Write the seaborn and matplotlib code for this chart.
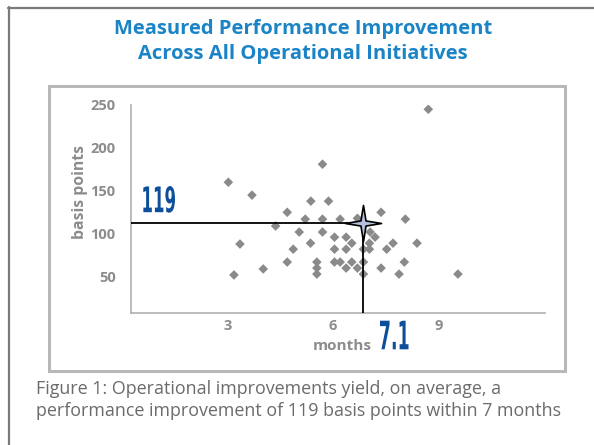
import numpy as np
import pandas as pd
import matplotlib
matplotlib.use("Agg")
import matplotlib.pyplot as plt
from matplotlib.path import Path
from matplotlib.lines import Line2D
from matplotlib.patches import Rectangle, PathPatch
from matplotlib.textpath import TextPath
from matplotlib.font_manager import FontProperties
from matplotlib.transforms import Affine2D
import seaborn as sns

# ---- data --------------------------------------------------------------
months = [3.03, 3.70, 3.36, 3.19, 4.02, 4.37, 4.70, 4.70, 4.87, 5.04,
          5.21, 5.37, 5.36, 5.54, 5.54, 5.54, 5.70, 5.87, 5.70, 5.70,
          6.04, 6.37, 6.04, 6.37, 6.04, 6.20, 6.53, 6.37, 6.69, 6.86,
          6.86, 6.20, 6.69, 6.53, 6.86, 7.03, 7.03, 7.05, 7.19, 7.36,
          8.05, 7.70, 8.38, 7.52, 8.02, 7.36, 7.87, 9.54, 8.70]
basis_points = [160, 145, 88, 52, 59, 109, 125, 67, 82, 102,
                117, 138, 89, 67, 60, 53, 181, 138, 117, 102,
                96, 96, 82, 82, 67, 67, 67, 60, 60, 53,
                67, 117, 118, 89, 82, 89, 82, 102, 96, 125,
                117, 89, 89, 82, 67, 60, 53, 53, 245]

mean_point = (6.86, 112.2)          # where the cross-hair is drawn
mean_labels = ("7.1", "119")         # printed values
x_ticks = [3, 6, 9, 12]
x_tick_labels = ["3", "6", "9", ""]
y_ticks = [50, 100, 150, 200, 250]

title = "Measured Performance Improvement\nAcross All Operational Initiatives"
caption = ("Figure 1: Operational improvements yield, on average, a\n"
           "performance improvement of 119 basis points within 7 months")

df = pd.DataFrame({"months": months, "basis_points": basis_points})

# ---- style ---------------------------------------------------------------
sns.set_style("white")
plt.rcParams["font.family"] = ["Open Sans", "DejaVu Sans"]

GREY_TXT = "#8c8c8c"
GREY_AX = "#b0b0b0"
BLUE_T = "#1b84c6"
BLUE_D = "#0d4f9a"

fig = plt.figure(figsize=(5.94, 4.45), dpi=100)
W, H = 594, 445

def fx(px):
    return px / W

def fy(py):
    return 1 - py / H

# outer frame (top + left) and inner plot box
fig.add_artist(Line2D([fx(8), 1], [fy(7.5), fy(7.5)], color="#7a7a7a", lw=1.6))
fig.add_artist(Line2D([fx(8.5), fx(8.5)], [fy(7), 0], color="#7a7a7a", lw=1.6))
fig.add_artist(Rectangle((fx(49), fy(371)), fx(565) - fx(49), fy(86) - fy(371),
                         transform=fig.transFigure, fill=False,
                         edgecolor="#b8b8b8", lw=2.2))

ax = fig.add_axes([fx(131), fy(313.3), fx(544.7) - fx(131), fy(105) - fy(313.3)])

sns.scatterplot(data=df, x="months", y="basis_points", marker="D", s=24,
                color="#8a8a8a", edgecolor="none", ax=ax, zorder=3)

ax.set_xlim(0.27, 12)
ax.set_ylim(7.3, 250)

# cross-hair at the average
mx, my = mean_point
ax.plot([0.27, mx], [my, my], color="black", lw=1.3, zorder=4)
ax.plot([mx, mx], [my, 7.3], color="black", lw=1.3, zorder=4)

r = 0.2
star_verts = []
for k in range(8):
    ang = np.pi / 2 + k * np.pi / 4
    rad = 1.0 if k % 2 == 0 else r
    star_verts.append((rad * np.cos(ang), rad * np.sin(ang)))
star_verts.append(star_verts[0])
star = Path(star_verts, [Path.MOVETO] + [Path.LINETO] * 7 + [Path.CLOSEPOLY])
ax.plot([mx], [my], marker=star, markersize=26, markerfacecolor="#b3bfdc",
        markeredgecolor="black", markeredgewidth=1.2, zorder=5, clip_on=False)

# axes look
for side in ["top", "right"]:
    ax.spines[side].set_visible(False)
for side in ["left", "bottom"]:
    ax.spines[side].set_color(GREY_AX)
    ax.spines[side].set_linewidth(1.2)

ax.set_xticks(x_ticks)
ax.set_xticklabels(x_tick_labels)
ax.set_yticks(y_ticks)
ax.tick_params(direction="in", length=5, width=1, color=GREY_AX,
               labelcolor=GREY_TXT, labelsize=10.5)
ax.tick_params(axis="y", pad=11)
ax.tick_params(axis="x", pad=4)
for lab in ax.get_xticklabels() + ax.get_yticklabels():
    lab.set_fontweight("bold")

ax.set_xlabel("")
ax.set_ylabel("")
fig.text(fx(342), fy(346.5), "months", ha="center", va="center",
         color=GREY_TXT, fontsize=11, fontweight="bold")
fig.text(fx(80.5), fy(192), "basis points", ha="center", va="center",
         rotation=90, color=GREY_TXT, fontsize=11.3, fontweight="bold")


# printed averages: a narrow, tall figure style, squeezed glyph outlines
def narrow_text(s, left_px, base_px, height_px, width_px):
    tp = TextPath((0, 0), s, size=1,
                  prop=FontProperties(family="DejaVu Sans", weight="semibold"))
    ext = tp.get_extents()
    sx = width_px / ext.width
    sy = height_px / ext.height
    tr = (Affine2D().translate(-ext.x0, -ext.y0).scale(sx, sy)
          .translate(left_px, H - base_px))
    fig.add_artist(PathPatch(tp, transform=tr, color=BLUE_D, lw=0))


narrow_text(mean_labels[0], 380, 349.3, 28.6, 28.5)
narrow_text(mean_labels[1], 143.3, 212.7, 26.7, 31.7)

fig.text(fx(303), fy(41.5), title, ha="center", va="center", color=BLUE_T,
         fontsize=14.5, fontweight="bold", linespacing=1.35)
fig.text(fx(36), fy(400), caption, ha="left", va="center", color="#6b6b6b",
         fontsize=12.85, linespacing=1.3)

fig.savefig("out.png", dpi=100, facecolor="white")
